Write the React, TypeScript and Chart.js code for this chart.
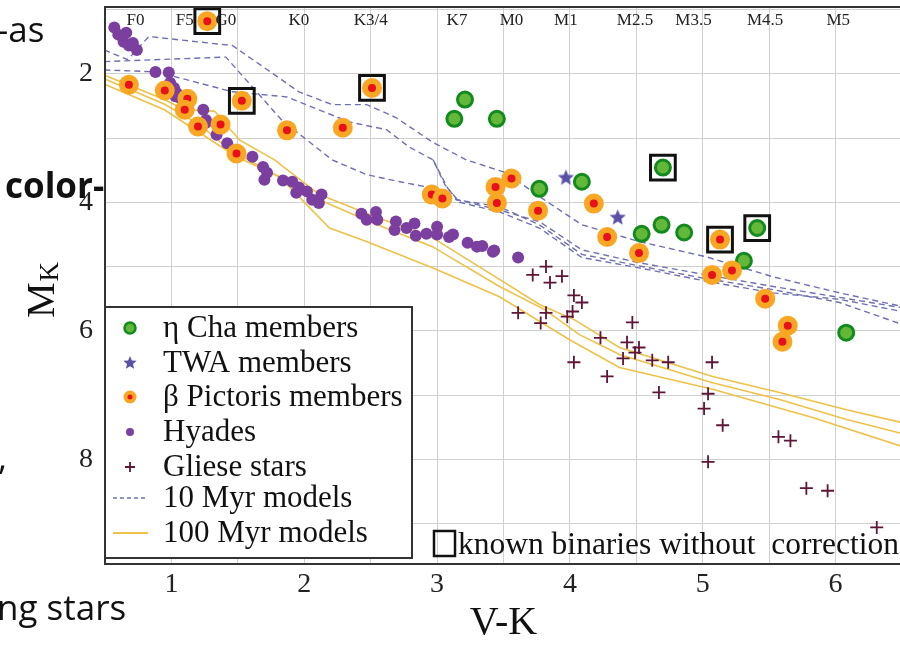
import React, { useEffect, useRef } from 'react';
import { Chart, registerables } from 'chart.js';
Chart.register(...registerables);

type P = [number, number];

// ---- data (V-K, M_K) ----
const etaCha: P[] = [
  [3.13, 2.7], [3.21, 2.4], [3.45, 2.7], [3.77, 3.79], [4.09, 3.68], [4.7, 3.46],
  [4.54, 4.49], [4.69, 4.35], [4.86, 4.47], [5.41, 4.4], [5.31, 4.91], [6.08, 6.03],
];
const twa: P[] = [[3.97, 3.62], [4.36, 4.24]];
const betaPic: P[] = [
  [1.27, 1.18], [0.68, 2.17], [0.95, 2.26], [1.12, 2.39], [1.1, 2.56], [1.53, 2.42],
  [1.2, 2.82], [1.37, 2.79], [1.49, 3.24], [1.87, 2.88], [2.29, 2.84], [2.51, 2.22],
  [2.96, 3.88], [3.04, 3.94], [3.44, 3.76], [3.45, 4.01], [3.56, 3.63], [3.76, 4.13],
  [4.18, 4.02], [4.28, 4.54], [4.52, 4.79], [5.13, 4.58], [5.07, 5.13], [5.22, 5.06],
  [5.47, 5.5], [5.64, 5.92], [5.6, 6.17],
];
const hyades: P[] = [
  [0.57, 1.28], [0.6, 1.39], [0.66, 1.36], [0.64, 1.5], [0.68, 1.56], [0.74, 1.63], [0.71, 1.52],
  [0.88, 1.97], [0.98, 1.98], [0.99, 2.14], [1.02, 2.22], [1.04, 2.3], [1.06, 2.37], [1.08, 2.4],
  [1.03, 2.35], [1.24, 2.56], [1.26, 2.72], [1.26, 2.76], [1.34, 2.95], [1.42, 3.08], [1.51, 3.21],
  [1.61, 3.29], [1.69, 3.45], [1.72, 3.54], [1.7, 3.65], [1.84, 3.66], [1.91, 3.68], [1.96, 3.77],
  [1.94, 3.85], [2.02, 3.83], [2.06, 3.96], [2.11, 4.01], [2.13, 3.88], [2.43, 4.18], [2.47, 4.27],
  [2.54, 4.15], [2.55, 4.27], [2.69, 4.3], [2.68, 4.43], [2.77, 4.4], [2.83, 4.33], [2.84, 4.52],
  [2.92, 4.49], [3.0, 4.38], [3.0, 4.5], [3.09, 4.54], [3.12, 4.5], [3.23, 4.63], [3.3, 4.69],
  [3.34, 4.68], [3.43, 4.75], [3.42, 4.77], [3.61, 4.86],
];
const gliese: P[] = [
  [3.72, 5.13], [3.82, 5.0], [3.85, 5.25], [3.94, 5.15], [4.03, 5.45], [4.09, 5.56], [3.61, 5.72],
  [3.82, 5.72], [3.78, 5.88], [3.98, 5.78], [4.02, 5.7], [4.47, 5.87], [4.23, 6.11], [4.43, 6.18],
  [4.52, 6.26], [4.49, 6.34], [4.03, 6.49], [4.4, 6.43], [4.62, 6.46], [4.74, 6.49], [5.07, 6.49],
  [4.28, 6.71], [4.67, 6.96], [5.04, 6.98], [5.01, 7.21], [5.15, 7.47], [5.57, 7.65], [5.66, 7.71],
  [5.04, 8.04], [5.78, 8.45], [5.94, 8.49], [6.31, 9.06],
];
const binaries: P[] = [[1.27, 1.18], [1.53, 2.42], [2.51, 2.22], [4.7, 3.46], [5.13, 4.58], [5.41, 4.4]];

const myr10a: P[] = [
  [0.495, 1.63], [0.67, 1.78], [0.83, 1.42], [1.46, 1.56], [1.96, 2.28], [2.21, 2.48], [2.47, 2.48],
  [2.69, 2.68], [2.97, 3.07], [3.22, 3.34], [3.52, 3.54], [3.77, 3.91], [4.09, 4.35], [4.52, 4.61],
  [5.03, 4.85], [5.53, 5.16], [6.03, 5.41], [6.5, 5.62],
];
const myr10b: P[] = [
  [0.495, 1.81], [1.41, 1.74], [1.83, 2.72], [2.21, 3.34], [2.47, 3.57], [2.72, 3.68], [2.92, 3.76],
  [3.09, 3.93], [3.47, 4.12], [3.77, 4.3], [4.09, 4.74], [4.52, 4.94], [5.03, 5.13], [5.53, 5.31],
  [6.03, 5.48], [6.5, 5.64],
];
const myr10c: P[] = [
  [0.495, 1.94], [0.89, 1.97], [1.46, 2.28], [1.87, 2.36], [2.34, 2.75], [2.62, 2.87], [2.79, 3.14],
  [2.97, 3.34], [3.06, 3.73], [3.15, 3.96], [3.47, 4.07], [3.77, 4.35], [4.09, 4.81], [4.52, 4.99],
  [5.03, 5.19], [5.53, 5.36], [6.03, 5.56], [6.5, 5.9],
];
const myr10d: P[] = [
  [2.97, 3.34], [3.08, 3.78], [3.17, 4.0], [3.47, 4.15], [3.77, 4.4], [4.09, 4.86], [4.52, 5.02],
  [5.03, 5.23], [5.53, 5.41], [6.03, 5.51], [6.5, 5.7],
];
const myr100a: P[] = [
  [0.495, 2.02], [0.947, 2.4], [1.098, 2.56], [1.324, 2.58], [1.512, 3.03], [1.776, 3.34],
  [2.114, 3.88], [2.491, 4.19], [2.965, 4.55], [3.47, 5.2], [3.771, 5.59], [4.035, 5.83],
  [4.373, 6.26], [5.074, 6.71], [5.578, 6.96], [6.083, 7.23], [6.5, 7.43],
];
const myr100b: P[] = [
  [0.495, 2.08], [0.947, 2.47], [1.211, 2.79], [1.437, 3.18], [1.738, 3.52], [2.114, 3.96],
  [2.491, 4.3], [2.965, 4.69], [3.47, 5.31], [3.809, 5.67], [4.072, 6.06], [4.373, 6.37],
  [5.074, 6.81], [5.578, 7.07], [6.083, 7.38], [6.5, 7.6],
];
const myr100c: P[] = [
  [0.495, 2.16], [0.947, 2.56], [1.489, 3.29], [1.813, 3.6], [2.19, 4.4], [2.468, 4.61],
  [2.965, 5.02], [3.47, 5.47], [3.997, 6.14], [4.373, 6.57], [5.074, 6.91], [5.827, 7.35], [6.5, 7.8],
];

const spectralTypes = ['F0', 'F5', 'G0', 'K0', 'K3/4', 'K7', 'M0', 'M1', 'M2.5', 'M3.5', 'M4.5', 'M5'];
const spectralVK = [0.73, 1.1, 1.41, 1.96, 2.5, 3.15, 3.56, 3.97, 4.49, 4.93, 5.47, 6.02];
const xGridValues = [0.5, 1, 1.5, 2, 2.5, 3, 3.5, 4, 4.5, 5, 5.5, 6, 6.5];
const yGridValues = [1, 2, 3, 4, 5, 6, 7, 8, 9];
const legendLabels = ['η Cha members', 'TWA members', 'β Pictoris members', 'Hyades', 'Gliese stars', '10 Myr models', '100 Myr models'];
const binaryLabel = 'known binaries without  correction';

const SERIF = '"Liberation Serif", "DejaVu Serif", serif';
const C_GREEN_FILL = '#63b83a';
const C_GREEN_EDGE = '#138a1e';
const C_RED = '#e8101e';
const C_ORANGE = '#f9a623';
const C_PURPLE = '#7b3f9f';
const C_MAROON = '#5e1538';
const C_STAR = '#5a50a8';
const C_DASH = '#6f70b3';
const C_GOLD = '#efc148';

const toXY = (a: P[]) => a.map(([x, y]) => ({ x, y }));

function makeStar(r: number, color: string) {
  const c = document.createElement('canvas');
  const s = Math.ceil(r * 2 + 2);
  c.width = s;
  c.height = s;
  const ctx = c.getContext('2d')!;
  ctx.fillStyle = color;
  ctx.beginPath();
  for (let i = 0; i < 10; i++) {
    const a = -Math.PI / 2 + (i * Math.PI) / 5;
    const rr = i % 2 === 0 ? r : r * 0.45;
    ctx.lineTo(s / 2 + rr * Math.cos(a), s / 2 + rr * Math.sin(a));
  }
  ctx.closePath();
  ctx.fill();
  return c;
}

function starPath(ctx: CanvasRenderingContext2D, cx: number, cy: number, r: number) {
  ctx.beginPath();
  for (let i = 0; i < 10; i++) {
    const a = -Math.PI / 2 + (i * Math.PI) / 5;
    const rr = i % 2 === 0 ? r : r * 0.45;
    ctx.lineTo(cx + rr * Math.cos(a), cy + rr * Math.sin(a));
  }
  ctx.closePath();
}

const noPad = (s: any) => {
  s.paddingTop = 0;
  s.paddingBottom = 0;
  s.paddingLeft = 0;
  s.paddingRight = 0;
};

const decorPlugin = {
  id: 'decor',
  afterDatasetsDraw(chart: any) {
    const { ctx, chartArea: a, scales } = chart;
    const xs = scales.x;
    ctx.save();
    // frame
    ctx.strokeStyle = '#333';
    ctx.lineWidth = 2;
    ctx.strokeRect(a.left, a.top, a.right - a.left, a.bottom - a.top);

    // spectral type labels
    ctx.fillStyle = '#222';
    ctx.font = `17px ${SERIF}`;
    ctx.textAlign = 'center';
    ctx.textBaseline = 'middle';
    spectralTypes.forEach((t, i) => ctx.fillText(t, xs.getPixelForValue(spectralVK[i]), a.top + 14));

    // legend box
    const lx = a.left, ly = 307, lw = 307, lh = 251;
    ctx.fillStyle = '#fff';
    ctx.fillRect(lx, ly, lw, lh);
    ctx.strokeStyle = '#333';
    ctx.lineWidth = 2;
    ctx.strokeRect(lx, ly, lw, lh);
    const rows = [328, 363, 397, 432, 467, 498, 533];
    const mx = 130;
    ctx.font = `31px ${SERIF}`;
    ctx.textAlign = 'left';
    ctx.textBaseline = 'middle';
    ctx.fillStyle = '#111';
    legendLabels.forEach((t, i) => ctx.fillText(t, 163, rows[i] + 1));
    // markers
    ctx.beginPath();
    ctx.arc(mx, rows[0], 5.5, 0, Math.PI * 2);
    ctx.fillStyle = C_GREEN_FILL;
    ctx.fill();
    ctx.lineWidth = 2.5;
    ctx.strokeStyle = C_GREEN_EDGE;
    ctx.stroke();
    ctx.fillStyle = C_STAR;
    starPath(ctx, mx, rows[1], 7);
    ctx.fill();
    ctx.beginPath();
    ctx.arc(mx, rows[2], 4.5, 0, Math.PI * 2);
    ctx.fillStyle = C_RED;
    ctx.fill();
    ctx.lineWidth = 4;
    ctx.strokeStyle = C_ORANGE;
    ctx.stroke();
    ctx.beginPath();
    ctx.arc(mx, rows[3], 4, 0, Math.PI * 2);
    ctx.fillStyle = C_PURPLE;
    ctx.fill();
    ctx.strokeStyle = C_MAROON;
    ctx.lineWidth = 1.8;
    ctx.beginPath();
    ctx.moveTo(mx - 5, rows[4]);
    ctx.lineTo(mx + 5, rows[4]);
    ctx.moveTo(mx, rows[4] - 5);
    ctx.lineTo(mx, rows[4] + 5);
    ctx.stroke();
    ctx.strokeStyle = C_DASH;
    ctx.lineWidth = 1.3;
    ctx.setLineDash([4, 3]);
    ctx.beginPath();
    ctx.moveTo(113, rows[5]);
    ctx.lineTo(148, rows[5]);
    ctx.stroke();
    ctx.setLineDash([]);
    ctx.strokeStyle = C_GOLD;
    ctx.lineWidth = 1.8;
    ctx.beginPath();
    ctx.moveTo(113, rows[6]);
    ctx.lineTo(148, rows[6]);
    ctx.stroke();

    // known binaries note
    ctx.strokeStyle = '#111';
    ctx.lineWidth = 2.5;
    ctx.strokeRect(434, 531, 21, 25);
    ctx.fillStyle = '#111';
    ctx.font = `31.5px ${SERIF}`;
    ctx.textAlign = 'left';
    ctx.textBaseline = 'alphabetic';
    ctx.fillText(binaryLabel, 458, 554);

    // y axis title M_K
    ctx.save();
    ctx.translate(54, 318);
    ctx.rotate(-Math.PI / 2);
    ctx.font = `40px ${SERIF}`;
    ctx.fillStyle = '#111';
    ctx.textAlign = 'left';
    ctx.textBaseline = 'alphabetic';
    ctx.fillText('M', 0, 0);
    const mw = ctx.measureText('M').width;
    ctx.font = `27px ${SERIF}`;
    ctx.fillText('K', mw + 1, 4);
    ctx.restore();

    ctx.restore();
  },
};

export default function App() {
  const ref = useRef<HTMLCanvasElement>(null);
  useEffect(() => {
    document.body.style.margin = '0';
    const star = makeStar(8.5, C_STAR);
    const lineDs = (d: P[], color: string, dashed: boolean, order: number) => ({
      data: toXY(d),
      showLine: true,
      borderColor: color,
      borderWidth: dashed ? 1.4 : 1.6,
      borderDash: dashed ? [6, 4] : [],
      pointRadius: 0,
      fill: false,
      tension: 0,
      order,
    });
    const chart = new Chart(ref.current!, {
      type: 'scatter',
      data: {
        datasets: [
          { data: toXY(binaries), pointStyle: 'rect', pointRadius: 17.5, borderWidth: 3, borderColor: '#111', backgroundColor: 'rgba(0,0,0,0)', order: 0 } as any,
          { data: toXY(betaPic), pointRadius: 7, borderWidth: 6, backgroundColor: C_RED, borderColor: C_ORANGE, order: 1 },
          { data: toXY(etaCha), pointRadius: 7.5, borderWidth: 3, backgroundColor: C_GREEN_FILL, borderColor: C_GREEN_EDGE, order: 2 },
          { data: toXY(twa), pointStyle: star, pointRadius: 8, order: 3 } as any,
          { data: toXY(gliese), pointStyle: 'cross', pointRadius: 6.5, borderWidth: 1.8, borderColor: C_MAROON, order: 4 },
          { data: toXY(hyades), pointRadius: 6, borderWidth: 0, backgroundColor: C_PURPLE, order: 5 },
          lineDs(myr10a, C_DASH, true, 6),
          lineDs(myr10b, C_DASH, true, 6),
          lineDs(myr10c, C_DASH, true, 6),
          lineDs(myr10d, C_DASH, true, 6),
          lineDs(myr100a, C_GOLD, false, 7),
          lineDs(myr100b, C_GOLD, false, 7),
          lineDs(myr100c, C_GOLD, false, 7),
        ],
      },
      options: {
        responsive: false,
        animation: false,
        layout: { autoPadding: false, padding: { top: 7, right: 2, left: 0, bottom: 0 } },
        plugins: { legend: { display: false }, tooltip: { enabled: false } },
        scales: {
          x: {
            type: 'linear',
            min: 0.5,
            max: 6.5,
            afterBuildTicks: (s: any) => { s.ticks = xGridValues.map((v) => ({ value: v })); },
            afterFit: (s: any) => { s.height = 81; noPad(s); },
            ticks: {
              callback: (v: any) => (Number.isInteger(v) ? String(v) : ''),
              font: { family: SERIF, size: 28 },
              color: '#222',
              padding: 4,
              maxRotation: 0,
              autoSkip: false,
            },
            grid: { color: '#d0d0d0', drawTicks: false, lineWidth: 1 },
            border: { display: false },
            title: { display: true, text: 'V-K', font: { family: SERIF, size: 40, lineHeight: 1 }, color: '#111', padding: { top: 0, bottom: 2 } },
          },
          y: {
            type: 'linear',
            reverse: true,
            min: 0.96,
            max: 9.63,
            afterBuildTicks: (s: any) => { s.ticks = yGridValues.map((v) => ({ value: v })); },
            afterFit: (s: any) => { s.width = 105; noPad(s); },
            ticks: {
              callback: (v: any) => (v % 2 === 0 ? String(v) : ''),
              font: { family: SERIF, size: 28 },
              color: '#222',
              padding: 12,
              autoSkip: false,
            },
            grid: { color: '#d0d0d0', drawTicks: false, lineWidth: 1 },
            border: { display: false },
            title: { display: false },
          },
        },
      },
      plugins: [decorPlugin],
    });
    return () => chart.destroy();
  }, []);

  const slideFont: React.CSSProperties = {
    position: 'absolute',
    fontFamily: '"Open Sans", "Noto Sans", sans-serif',
    fontSize: 35,
    lineHeight: 1,
    color: '#111',
    whiteSpace: 'nowrap',
  };

  return (
    <div style={{ position: 'fixed', left: 0, top: 0, width: 900, height: 645, overflow: 'hidden', background: '#fff' }}>
      <canvas ref={ref} width={904} height={645} style={{ position: 'absolute', left: 0, top: 0, width: 904, height: 645 }} />
      <span style={{ ...slideFont, left: -3, top: 11 }}>-as</span>
      <span style={{ ...slideFont, left: 5, top: 167, fontWeight: 700 }}>color-</span>
      <span style={{ ...slideFont, left: -2, top: 439 }}>,</span>
      <span style={{ ...slideFont, left: -3, top: 589 }}>ng stars</span>
    </div>
  );
}
